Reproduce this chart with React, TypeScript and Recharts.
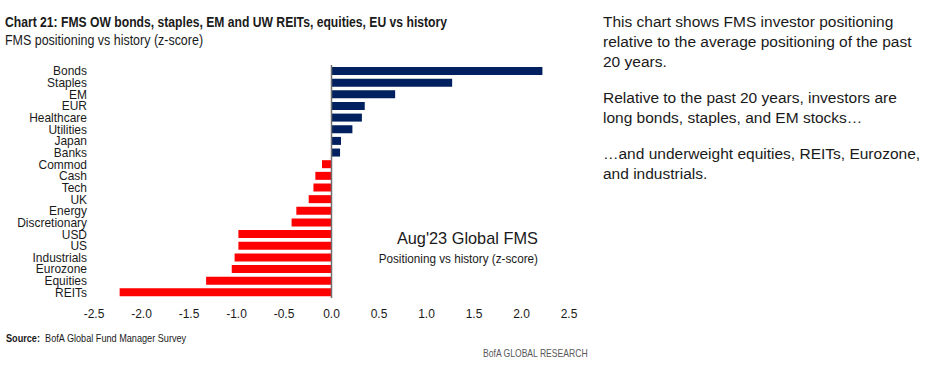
import React from "react";
import { BarChart, Bar, XAxis, YAxis, Cell, ReferenceLine } from "recharts";

const categories = ["Bonds","Staples","EM","EUR","Healthcare","Utilities","Japan","Banks","Commod","Cash","Tech","UK","Energy","Discretionary","USD","US","Industrials","Eurozone","Equities","REITs"];
const zScores = [2.22,1.27,0.67,0.35,0.32,0.22,0.10,0.09,-0.10,-0.17,-0.19,-0.24,-0.37,-0.42,-0.98,-0.98,-1.02,-1.05,-1.32,-2.23];
const xTicks = [-2.5,-2.0,-1.5,-1.0,-0.5,0,0.5,1.0,1.5,2.0,2.5];

const data = categories.map((c, i) => ({ name: c, value: zScores[i] }));

const NAVY = "#002060";
const RED = "#FF0000";
const TXT = "#1a1a1a";
const sans = "'Liberation Sans', Arial, sans-serif";

const YTick = (props: any) => {
  const { x, y, payload } = props;
  return (
    <g transform={`translate(${x},${y}) scale(0.92,1)`}>
      <text x={0} y={0} dy="0.355em" textAnchor="end" fontSize={13} fontFamily={sans} fill={TXT}>
        {payload.value}
      </text>
    </g>
  );
};

const squeeze = (s: number, origin = "left"): React.CSSProperties => ({
  transform: `scaleX(${s})`,
  transformOrigin: `${origin} center`,
  whiteSpace: "nowrap",
});

export default function App() {
  return (
    <div style={{ position: "absolute", left: 0, top: 0, width: 927, height: 368, background: "#fff", overflow: "hidden" }}>
      <div style={{ position: "absolute", left: 5, top: 13, fontFamily: sans, fontWeight: 700, fontSize: 15, color: TXT, ...squeeze(0.81) }}>
        Chart 21: FMS OW bonds, staples, EM and UW REITs, equities, EU vs history
      </div>
      <div style={{ position: "absolute", left: 5, top: 32, fontFamily: sans, fontSize: 14, color: TXT, ...squeeze(0.89) }}>
        FMS positioning vs history (z-score)
      </div>
      <BarChart
        width={927}
        height={368}
        data={data}
        layout="vertical"
        margin={{ top: 65, right: 358, bottom: 40, left: 4 }}
        barCategoryGap={2}
      >
        <XAxis
          type="number"
          domain={[-2.5, 2.5]}
          ticks={xTicks}
          tickFormatter={(v: number) => v.toFixed(1)}
          axisLine={false}
          tickLine={false}
          tickSize={0}
          tickMargin={11}
          height={30}
          interval={0}
          tick={{ fill: TXT, fontSize: 12, fontFamily: sans }}
        />
        <YAxis
          type="category"
          dataKey="name"
          width={90}
          axisLine={false}
          tickLine={false}
          tickSize={0}
          tickMargin={7}
          interval={0}
          tick={<YTick />}
        />
        <Bar dataKey="value" barSize={8} isAnimationActive={false}>
          {data.map((d, i) => (
            <Cell key={i} fill={d.value >= 0 ? NAVY : RED} />
          ))}
        </Bar>
        <ReferenceLine x={0} stroke="#6e6e6e" strokeWidth={1.5} />
      </BarChart>
      <div style={{ position: "absolute", right: 927 - 538, top: 229, fontFamily: sans, fontSize: 17, color: TXT, ...squeeze(0.96, "right") }}>
        Aug'23 Global FMS
      </div>
      <div style={{ position: "absolute", right: 927 - 538, top: 251, fontFamily: sans, fontSize: 13, color: TXT, ...squeeze(0.9, "right") }}>
        Positioning vs history (z-score)
      </div>
      <div style={{ position: "absolute", left: 6, top: 332, fontFamily: sans, fontSize: 11, color: TXT, ...squeeze(0.83) }}>
        <b>Source:</b>&nbsp; BofA Global Fund Manager Survey
      </div>
      <div style={{ position: "absolute", left: 483, top: 347, fontFamily: sans, fontSize: 11, color: "#595959", ...squeeze(0.78) }}>
        BofA GLOBAL RESEARCH
      </div>
      <div style={{ position: "absolute", left: 603, top: 12, width: 322, fontFamily: sans, fontSize: 15.5, lineHeight: "20px", color: TXT, whiteSpace: "nowrap" }}>
        <div>This chart shows FMS investor positioning<br />relative to the average positioning of the past<br />20 years.</div>
        <div style={{ marginTop: 16 }}>Relative to the past 20 years, investors are<br />long bonds, staples, and EM stocks…</div>
        <div style={{ marginTop: 16 }}>…and underweight equities, REITs, Eurozone,<br />and industrials.</div>
      </div>
    </div>
  );
}
